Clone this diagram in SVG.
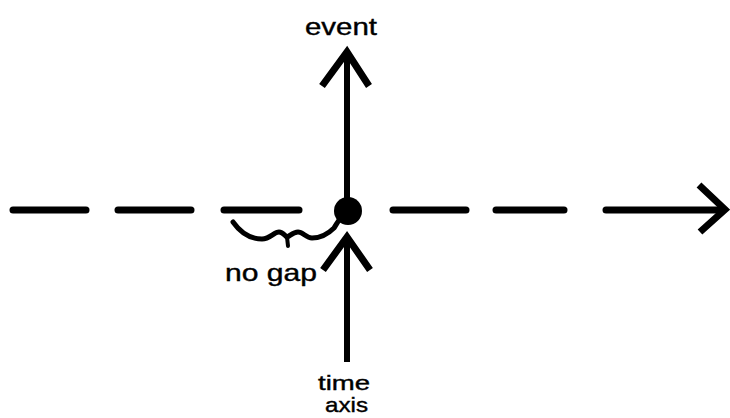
<svg xmlns="http://www.w3.org/2000/svg" width="730" height="418" viewBox="0 0 730 418">
<style>
.ln{stroke:#000;fill:none;stroke-width:7;stroke-linecap:round}
.ah{stroke:#000;fill:none;stroke-width:7;stroke-linecap:butt;stroke-linejoin:miter}
.lbl{font-family:"Liberation Sans",Arial,sans-serif;font-size:24px;fill:#000;stroke:#000;stroke-width:0.4}
.sm{font-size:21px}
</style>
<rect width="730" height="418" fill="#fff"/>
<g id="connectors">
<g id="time-line">
<line class="ln" x1="13" y1="210" x2="86" y2="210"/>
<line class="ln" x1="118" y1="210" x2="191" y2="210"/>
<line class="ln" x1="224" y1="210" x2="299" y2="210"/>
<line class="ln" x1="393" y1="210" x2="466" y2="210"/>
<line class="ln" x1="496" y1="210" x2="564" y2="210"/>
<line class="ln" x1="606" y1="210" x2="722" y2="210"/>
<polyline class="ah" points="699,185 725,209.5 700,232"/>
</g>
<g id="event-arrow">
<line class="ln" x1="347" y1="56" x2="347" y2="198" style="stroke-linecap:butt;stroke-width:6"/>
<polyline class="ah" points="322,86 347,52 369,86"/>
</g>
<g id="axis-arrow">
<line class="ln" x1="347" y1="240" x2="347" y2="362" style="stroke-linecap:butt;stroke-width:6"/>
<polyline class="ah" points="323,270 347,237 370,270"/>
</g>
<path id="gap-squiggle" d="M233,222 C240,232 250,239 262,239 C270,239 274,232 279,232 C283,232 285,236 287,237 C290,236 293,232 298,232 C303,232 306,238 312,238 C320,238 328,234 334,228 C338,222 340,216 348,212" style="stroke:#000;fill:none;stroke-width:5;stroke-linecap:round;stroke-linejoin:round"/>
<line x1="287" y1="237" x2="288" y2="246" style="stroke:#000;stroke-width:4;stroke-linecap:round"/>
</g>
<g id="event-point">
<circle cx="348" cy="211" r="14" fill="#000"/>
</g>
<g id="label-event">
<text class="lbl" x="305" y="35" textLength="72" lengthAdjust="spacingAndGlyphs">event</text>
</g>
<g id="label-nogap">
<text class="lbl" x="225" y="281" textLength="92" lengthAdjust="spacingAndGlyphs">no gap</text>
</g>
<g id="label-timeaxis">
<text class="lbl sm" x="318" y="390" textLength="52" lengthAdjust="spacingAndGlyphs">time</text>
<text class="lbl sm" x="325" y="412" textLength="43" lengthAdjust="spacingAndGlyphs">axis</text>
</g>
</svg>
